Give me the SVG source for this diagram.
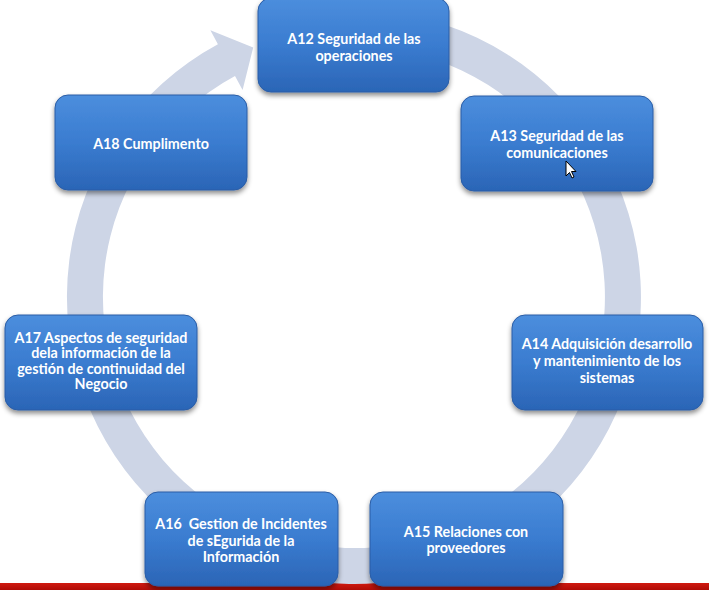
<svg xmlns="http://www.w3.org/2000/svg" width="709" height="590" viewBox="0 0 709 590">
<defs>
<linearGradient id="nodeFill" x1="0" y1="0" x2="0" y2="1">
<stop offset="0" stop-color="#4C8EDD"/>
<stop offset="0.5" stop-color="#3A7CD0"/>
<stop offset="1" stop-color="#2B65B6"/>
</linearGradient>
<linearGradient id="redBar" x1="0" y1="0" x2="0" y2="1">
<stop offset="0" stop-color="#D01A10"/>
<stop offset="1" stop-color="#B00C06"/>
</linearGradient>
<filter id="shadow" x="-10%" y="-10%" width="120%" height="130%">
<feDropShadow dx="0" dy="3" stdDeviation="2.5" flood-color="#000" flood-opacity="0.45"/>
</filter>
</defs>
<style>
.node rect { fill: url(#nodeFill); stroke: #2A5DA6; stroke-width: 1; filter: url(#shadow); }
.node text { fill: #FFFFFF; font-family: Lato, "Open Sans", "Liberation Sans", sans-serif; font-weight: bold; font-size: 14.3px; text-anchor: middle; dominant-baseline: central; white-space: pre; }
.ring { fill: #CDD5E6; }
</style>
<rect x="0" y="0" width="709" height="590" fill="#FFFFFF"/>
<rect x="0" y="583" width="709" height="7" fill="url(#redBar)"/>
<g id="connectors">
<path class="ring" d="M379.0,11.1 A287,287 0 1 1 217.9,44.3 L210.4,30.2 L253.2,47.6 L242.6,90.1 L235.0,76.0 A251,251 0 1 0 375.9,47.0 Z"/>
</g>
<g id="A12" class="node">
<rect x="258" y="-2" width="191" height="94" rx="13"/>
<text x="354" y="38">A12 Seguridad de las</text>
<text x="354" y="55">operaciones</text>
</g>
<g id="A13" class="node">
<rect x="461" y="96" width="192" height="95" rx="13"/>
<text x="557" y="135">A13 Seguridad de las</text>
<text x="557" y="152">comunicaciones</text>
</g>
<g id="A14" class="node">
<rect x="512" y="315" width="191" height="95" rx="13"/>
<text x="607" y="343">A14 Adquisición desarrollo</text>
<text x="607" y="360">y mantenimiento de los</text>
<text x="607" y="377">sistemas</text>
</g>
<g id="A15" class="node">
<rect x="370" y="492" width="193" height="94" rx="13"/>
<text x="466" y="531">A15 Relaciones con</text>
<text x="466" y="547">proveedores</text>
</g>
<g id="A16" class="node">
<rect x="145" y="492" width="193" height="94" rx="13"/>
<text x="241" y="523" xml:space="preserve">A16  Gestion de Incidentes</text>
<text x="241" y="540">de sEgurida de la</text>
<text x="241" y="556">Información</text>
</g>
<g id="A17" class="node">
<rect x="5" y="315" width="192" height="95" rx="13"/>
<text x="101" y="337">A17 Aspectos de seguridad</text>
<text x="101" y="352.5">dela información de la</text>
<text x="101" y="368">gestión de continuidad del</text>
<text x="101" y="383.5">Negocio</text>
</g>
<g id="A18" class="node">
<rect x="55" y="95" width="192" height="95" rx="13"/>
<text x="151" y="143">A18 Cumplimento</text>
</g>
<path d="M566,161 L566,176 L569.5,172.5 L572,178 L574,177 L571.5,171.5 L576,171.5 Z" fill="#FFFFFF" stroke="#000000" stroke-width="1"/>
</svg>
